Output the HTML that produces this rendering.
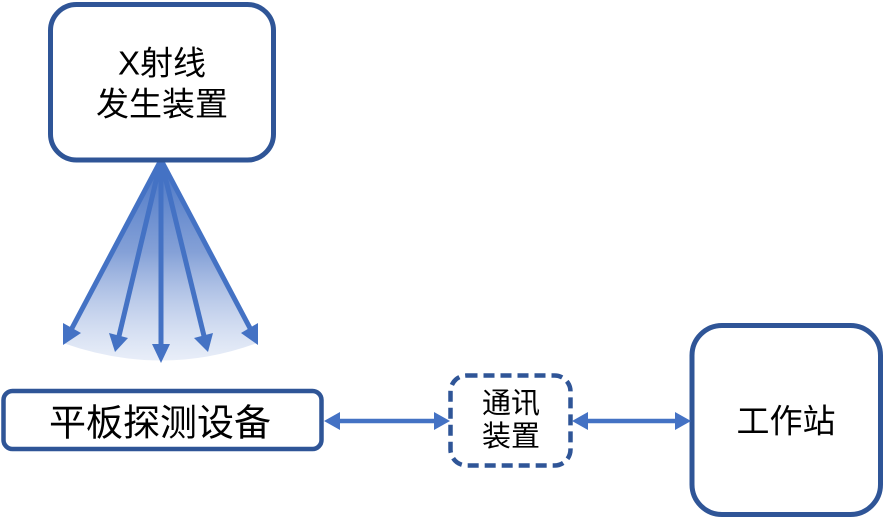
<!DOCTYPE html>
<html><head><meta charset="utf-8"><style>
html,body{margin:0;padding:0;background:#fff;}
svg{display:block;}
text{font-family:"Liberation Sans","Noto Sans CJK SC",sans-serif;fill:#000;}
</style></head><body>
<svg width="884" height="518" viewBox="0 0 884 518" xmlns="http://www.w3.org/2000/svg">
<defs>
<linearGradient id="g" x1="0" y1="160" x2="0" y2="365" gradientUnits="userSpaceOnUse">
<stop offset="0" stop-color="#4472C4" stop-opacity="1"/>
<stop offset="0.45" stop-color="#6f90d0" stop-opacity="0.85"/>
<stop offset="1" stop-color="#c5d3ee" stop-opacity="0.35"/>
</linearGradient>
</defs>
<!-- fan -->
<path d="M161,160 L63,343 Q162,378 257,343 Z" fill="url(#g)"/>
<g stroke="#4472C4" stroke-width="5" fill="none" stroke-linecap="butt">
<line x1="161" y1="160" x2="71" y2="330"/>
<line x1="161" y1="160" x2="119" y2="336"/>
<line x1="161" y1="160" x2="161" y2="346"/>
<line x1="161" y1="160" x2="204" y2="336"/>
<line x1="161" y1="160" x2="251" y2="330"/>
</g>
<g fill="#4472C4">
<polygon points="63,345 63,323 81,333"/>
<polygon points="115,352 109,333 128,338"/>
<polygon points="161,363 152,344 170,344"/>
<polygon points="208,352 194,338 213,333"/>
<polygon points="258,345 241,333 258,323"/>
</g>
<!-- top box -->
<rect x="50.5" y="4.5" width="223" height="155.5" rx="26" ry="26" fill="#fff" stroke="#2F5597" stroke-width="5"/>
<text x="162" y="63" font-size="33" text-anchor="middle" dominant-baseline="central">X射线</text>
<text x="162" y="104" font-size="33" text-anchor="middle" dominant-baseline="central">发生装置</text>
<!-- flat panel -->
<rect x="3.5" y="391" width="318" height="58" rx="9" ry="9" fill="#fff" stroke="#2F5597" stroke-width="4.5"/>
<text x="160" y="423" font-size="37" text-anchor="middle" dominant-baseline="central">平板探测设备</text>
<!-- comm box -->
<rect x="450.5" y="375.5" width="120" height="90" rx="16" ry="16" fill="#fff" stroke="#2F5597" stroke-width="4.5" stroke-dasharray="11 6"/>
<text x="511" y="404" font-size="29" text-anchor="middle" dominant-baseline="central">通讯</text>
<text x="511" y="437" font-size="29" text-anchor="middle" dominant-baseline="central">装置</text>
<!-- workstation -->
<rect x="692" y="325.5" width="188.5" height="189" rx="30" ry="30" fill="#fff" stroke="#2F5597" stroke-width="5"/>
<text x="786" y="421" font-size="33" text-anchor="middle" dominant-baseline="central">工作站</text>
<!-- horizontal arrows -->
<g stroke="#4472C4" stroke-width="4.5" fill="none">
<line x1="338" y1="421" x2="436" y2="421"/>
<line x1="586" y1="421" x2="676" y2="421"/>
</g>
<g fill="#4472C4">
<polygon points="324,421 340,412 340,430"/>
<polygon points="450,421 434,412 434,430"/>
<polygon points="572,421 588,412 588,430"/>
<polygon points="691,421 675,412 675,430"/>
</g>
</svg>
</body></html>
